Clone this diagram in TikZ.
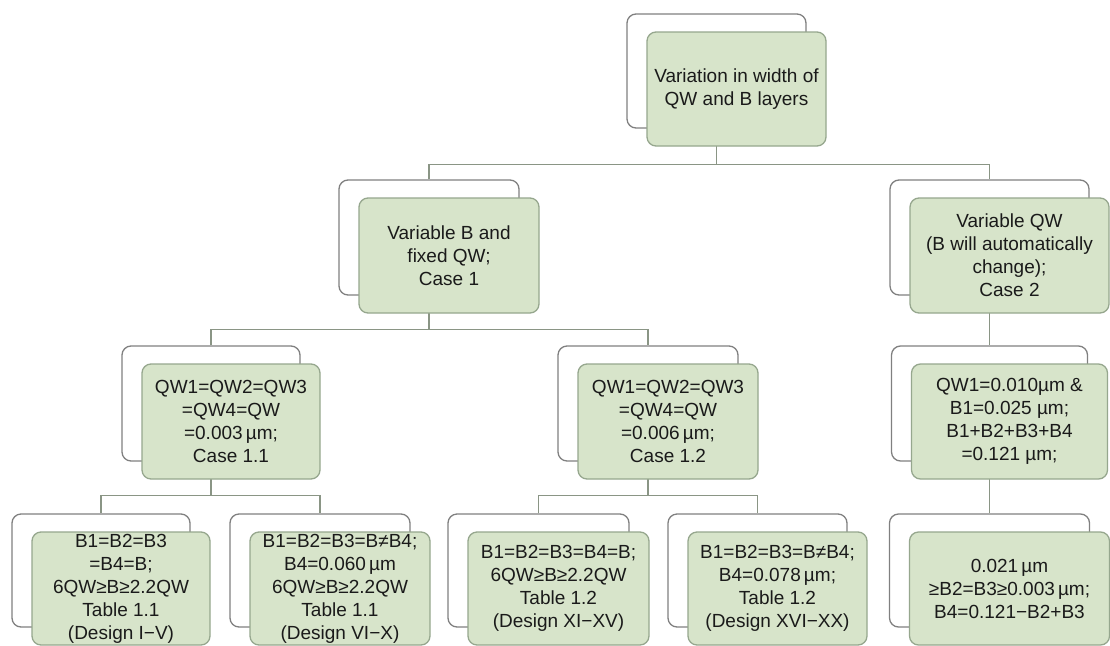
\documentclass[tikz,border=0pt]{standalone}
\usepackage{fontspec}
\setmainfont{Liberation Sans}
\usetikzlibrary{calc}
\pgfdeclarelayer{bg}
\pgfdeclarelayer{paper}
\pgfsetlayers{paper,bg,main}
\definecolor{boxfill}{HTML}{D7E4CA}
\definecolor{boxline}{HTML}{96A78E}
\definecolor{backline}{HTML}{808080}
\definecolor{conn}{HTML}{8A9585}
\definecolor{txt}{HTML}{1A1A1A}
\newcommand\pairbox[6]{%
  \node[backbox, minimum width=#4pt, minimum height=#5pt] (#1b) at (#2-20,#3-18) {};
  \node[frontbox, minimum width=#4pt, minimum height=#5pt] (#1) at (#2,#3) {#6};}
\begin{document}
\begin{tikzpicture}[x=1pt,y=-1pt,
  backbox/.style={draw=backline, fill=white, line width=1.3pt, rounded corners=9pt, inner sep=0pt},
  frontbox/.style={draw=boxline, fill=boxfill, line width=1.3pt, rounded corners=9pt, inner sep=0pt,
    align=center, text=txt, font=\fontsize{19}{23}\selectfont},
  connline/.style={draw=conn, line width=1.4pt}]
\begin{pgfonlayer}{paper}
\fill[white] (0,0) rectangle (1110,645);
\end{pgfonlayer}
\useasboundingbox (0,0) rectangle (1110,645);
% level 1
\pairbox{T0}{736.5}{89}{179}{114}{Variation in width of\\QW and B layers}
% level 2
\pairbox{C1}{449}{255.5}{180}{115}{Variable B and\\fixed QW;\\Case 1}
\pairbox{C2}{1009.5}{255.5}{199}{115}{Variable QW\\(B will automatically\\change);\\Case 2}
% level 3
\pairbox{C11}{231}{421.5}{178}{115}{QW1=QW2=QW3\\=QW4=QW\\=0.003\,µm;\\Case 1.1}
\pairbox{C12}{668}{421.5}{180}{115}{QW1=QW2=QW3\\=QW4=QW\\=0.006\,µm;\\Case 1.2}
\pairbox{C2a}{1009.5}{421.5}{196}{115}{QW1=0.010µm \&\\B1=0.025 µm;\\B1+B2+B3+B4\\=0.121 µm;}
% level 4
\pairbox{La}{121}{588.5}{178}{113}{B1=B2=B3\\=B4=B;\\6QW≥B≥2.2QW\\Table 1.1\\(Design I−V)}
\pairbox{Lb}{340}{588.5}{180}{113}{B1=B2=B3=B≠B4;\\B4=0.060\,µm\\6QW≥B≥2.2QW\\Table 1.1\\(Design VI−X)}
\pairbox{Lc}{558.5}{588.5}{181}{113}{B1=B2=B3=B4=B;\\6QW≥B≥2.2QW\\Table 1.2\\(Design XI−XV)}
\pairbox{Ld}{777.5}{588.5}{179}{113}{B1=B2=B3=B≠B4;\\B4=0.078\,µm;\\Table 1.2\\(Design XVI−XX)}
\pairbox{Le}{1009.5}{588.5}{200}{113}{0.021\,µm\\≥B2=B3≥0.003\,µm;\\B4=0.121−B2+B3}
% connectors
\begin{pgfonlayer}{bg}
\coordinate (j0) at ($(T0b.south)+(0,36)$);
\coordinate (j1) at ($(C1b.south)+(0,34)$);
\coordinate (j2) at ($(C11b.south)+(0,34)$);
\coordinate (j3) at ($(C12b.south)+(0,34)$);
\path[connline] (T0b.south) -- (j0);
\path[connline] (C1b.north) |- (j0) -| (C2b.north);
\path[connline] (C1b.south) -- (j1);
\path[connline] (C11b.north) |- (j1) -| (C12b.north);
\path[connline] (C2b.south) -- (C2ab.north);
\path[connline] (C11b.south) -- (j2);
\path[connline] (Lab.north) |- (j2) -| (Lbb.north);
\path[connline] (C12b.south) -- (j3);
\path[connline] (Lcb.north) |- (j3) -| (Ldb.north);
\path[connline] (C2ab.south) -- (Leb.north);
\end{pgfonlayer}
\end{tikzpicture}
\end{document}
